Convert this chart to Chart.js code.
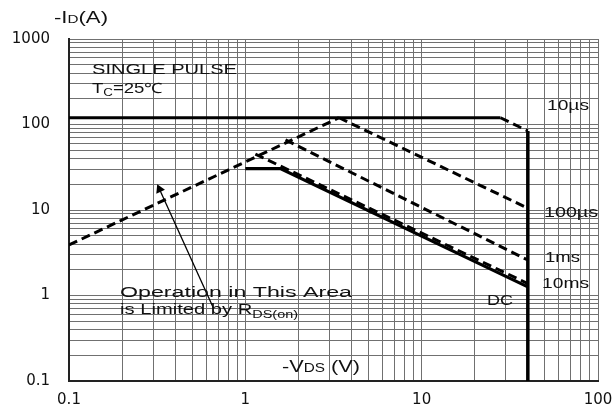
<!DOCTYPE html>
<html>
<head>
<meta charset="utf-8">
<script src="https://cdn.jsdelivr.net/npm/chart.js@4.4.1/dist/chart.umd.min.js"></script>
<style>
  html, body { margin: 0; padding: 0; background: #fff; }
  #wrap { width: 616px; height: 410px; }
</style>
</head>
<body>
<div id="wrap"><canvas id="soa"></canvas></div>
<script>
// tick labels (log axes)
const xTicks = [0.1, 1, 10, 100];
const yTicks = [0.1, 1, 10, 100, 1000];

// curves: -VDS (V) / -ID (A)
const rdsV = [0.1, 3.4];        const rdsI = [3.9, 120];
const us10FlatV = [0.1, 28];    const us10FlatI = [120, 120];
const us10DropV = [28, 40];     const us10DropI = [120, 84];
const limitV = [40, 40];        const limitI = [84, 0.1];
const us100V = [3.4, 40];       const us100I = [120, 10.5];
const ms1V = [1.69, 40];        const ms1I = [66, 2.6];
const ms10V = [1.14, 40];       const ms10I = [45, 1.38];
const dcV = [1.0, 1.58, 40];    const dcI = [30.5, 30.5, 1.26];
const arrowV = [0.66, 0.326];   const arrowI = [0.71, 17.5];

const pts = (vs, is) => vs.map((v, i) => ({ x: v, y: is[i] }));
const DASH = [9, 5];

function curve(vs, is, dashed, w) {
  return {
    data: pts(vs, is),
    borderColor: "#000",
    borderWidth: w || 3,
    borderDash: dashed ? DASH : [],
    borderCapStyle: "butt",
    pointRadius: 0,
    tension: 0,
    fill: false
  };
}

const isMajor = v => Math.abs(Math.log10(v) - Math.round(Math.log10(v))) < 1e-6;
const keepWhole = s => {
  // log scale in v4 adds 1.5, 15 ... steps, drop those
  s.ticks = s.ticks.filter(t => {
    const m = t.value / Math.pow(10, Math.floor(Math.log10(t.value) + 1e-9));
    return Math.abs(m - Math.round(m)) < 1e-6;
  });
};
const tickText = list => v => {
  const hit = list.find(t => Math.abs(t - v) < 1e-9);
  return (hit !== undefined && isMajor(v)) ? String(hit) : "";
};

// text with a horizontal stretch, runs may be sub/superscripts
function drawRuns(ctx, runs, x, y, width) {
  ctx.save();
  let total = 0;
  runs.forEach(r => {
    ctx.font = r.size + 'px "Liberation Sans", Arial, sans-serif';
    r.w = ctx.measureText(r.t).width;
    total += r.w;
  });
  ctx.translate(x, y);
  ctx.scale(width / total, 1);
  ctx.fillStyle = "#111";
  ctx.textBaseline = "alphabetic";
  let cx = 0;
  runs.forEach(r => {
    ctx.font = r.size + 'px "Liberation Sans", Arial, sans-serif';
    ctx.fillText(r.t, cx, r.dy || 0);
    cx += r.w;
  });
  ctx.restore();
}

const labels = [
  { runs: [{ t: "SINGLE PULSE", size: 14 }], x: 92, y: 74, w: 145 },
  { runs: [{ t: "T", size: 14 }, { t: "C", size: 10, dy: 3 }, { t: "=25℃", size: 14 }], x: 92, y: 93, w: 71 },
  { runs: [{ t: "10µs", size: 14 }], x: 547, y: 110, w: 42 },
  { runs: [{ t: "100µs", size: 14 }], x: 544, y: 217, w: 54 },
  { runs: [{ t: "1ms", size: 14 }], x: 545, y: 262, w: 35 },
  { runs: [{ t: "10ms", size: 14 }], x: 542, y: 288, w: 47 },
  { runs: [{ t: "DC", size: 14 }], x: 487, y: 305, w: 26 },
  { runs: [{ t: "Operation in This Area", size: 14 }], x: 120, y: 297, w: 232 },
  { runs: [{ t: "is Limited by R", size: 14 }, { t: "DS(on)", size: 10, dy: 4 }], x: 120, y: 314, w: 178 },
  { runs: [{ t: "-I", size: 16 }, { t: "D", size: 11 }, { t: "(A)", size: 16 }], x: 54, y: 23, w: 54 },
  { runs: [{ t: "-V", size: 17 }, { t: "DS", size: 12 }, { t: " (V)", size: 17 }], x: 282, y: 372, w: 78 }
];

const textPlugin = {
  id: "soaText",
  afterDatasetsDraw(chart) {
    labels.forEach(l => drawRuns(chart.ctx, l.runs, l.x, l.y, l.w));
  }
};

const arrow = curve(arrowV, arrowI, false, 1.3);
arrow.pointRadius = [0, 5.5];
arrow.pointStyle = "triangle";
arrow.rotation = -24.5;
arrow.pointBackgroundColor = "#000";
arrow.pointBorderWidth = 0;

const GRID = "#707070";
const tickFont = { family: "DejaVu Sans", size: 15 };

new Chart(document.getElementById("soa"), {
  type: "line",
  data: {
    datasets: [
      curve(rdsV, rdsI, true),
      curve(us10FlatV, us10FlatI, false, 3),
      curve(us10DropV, us10DropI, true),
      curve(limitV, limitI, false, 3.5),
      curve(us100V, us100I, true),
      curve(ms1V, ms1I, true),
      curve(ms10V, ms10I, true),
      curve(dcV, dcI, false, 3.2),
      arrow
    ]
  },
  options: {
    responsive: true,
    maintainAspectRatio: false,
    animation: false,
    layout: { padding: { top: 39, right: 18, left: 0, bottom: 0 } },
    plugins: { legend: { display: false }, tooltip: { enabled: false } },
    scales: {
      x: {
        type: "logarithmic",
        min: xTicks[0],
        max: xTicks[xTicks.length - 1],
        afterBuildTicks: keepWhole,
        afterFit: s => { s.height = 29; s.paddingLeft = 0; s.paddingRight = 0; },
        grid: { color: GRID, lineWidth: 1, drawTicks: false },
        border: { display: true, color: "#222", width: 2 },
        ticks: {
          autoSkip: false, maxRotation: 0, padding: 10,
          color: "#111", font: tickFont,
          callback: tickText(xTicks)
        }
      },
      y: {
        type: "logarithmic",
        min: yTicks[0],
        max: yTicks[yTicks.length - 1],
        afterBuildTicks: keepWhole,
        afterFit: s => { s.width = 69; s.paddingTop = 0; s.paddingBottom = 0; },
        grid: { color: GRID, lineWidth: 1, drawTicks: false },
        border: { display: true, color: "#222", width: 2 },
        ticks: {
          autoSkip: false, padding: 19,
          color: "#111", font: tickFont,
          callback: tickText(yTicks)
        }
      }
    }
  },
  plugins: [textPlugin]
});
</script>
</body>
</html>
